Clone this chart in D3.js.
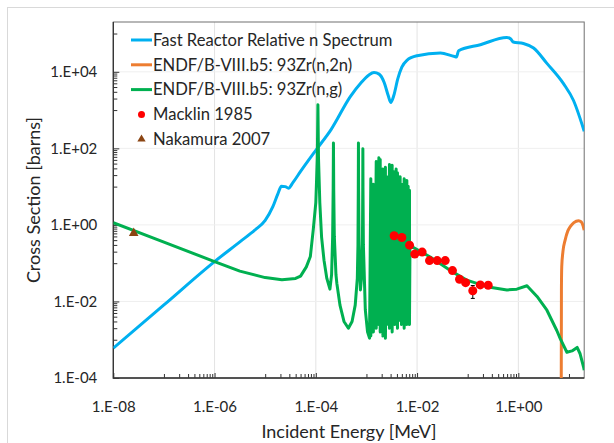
<!DOCTYPE html>
<html>
<head>
<meta charset="utf-8">
<script src="https://cdn.jsdelivr.net/npm/d3@7"></script>
<style>
body { margin: 0; background: #fff; }
svg text { font-family: Lato, "Open Sans", sans-serif; fill: #262626; }
</style>
</head>
<body>
<script>
// axis ticks
var xTicks = [1e-8, 1e-6, 1e-4, 1e-2, 1];
var xTickLabels = ["1.E-08", "1.E-06", "1.E-04", "1.E-02", "1.E+00"];
var yTicks = [1e-4, 1e-2, 1, 1e2, 1e4];
var yTickLabels = ["1.E-04", "1.E-02", "1.E+00", "1.E+02", "1.E+04"];

// Fast reactor relative neutron spectrum
var spectrumE = [1e-8, 1e-7, 1e-6, 3.16e-6, 6.3e-6, 1e-5, 1.41e-5, 1.78e-5, 2.09e-5, 2.5e-5, 2.88e-5, 3.55e-5, 5e-5, 1e-4, 2e-4, 4.8e-4, 7.9e-4, 1.12e-3, 1.41e-3, 1.78e-3, 2.24e-3, 2.69e-3, 3.02e-3, 3.47e-3, 4.17e-3, 5e-3, 6.3e-3, 1e-2, 2.9e-2, 5.5e-2, 6e-2, 6.6e-2, 0.178, 0.59, 0.71, 0.79, 1.26, 2.0, 3.67, 7.8, 12.3, 20];
var spectrumV = [6.0e-4, 8.1e-3, 0.11, 0.36, 0.74, 1.32, 2.95, 6.5, 10.2, 10.0, 9.1, 12.9, 25, 89, 309, 2240, 5250, 8300, 9550, 8700, 5250, 2400, 1580, 2400, 6600, 1.32e4, 2.0e4, 2.63e4, 3.1e4, 2.5e4, 2.45e4, 3.55e4, 5.1e4, 7.9e4, 7.2e4, 6.0e4, 5.5e4, 4.2e4, 1.66e4, 4900, 1780, 280];

// 93Zr(n,2n)
var n2nE = [7.0, 7.1, 7.2, 7.6, 8.4, 9.5, 10.6, 12.5, 15.5, 17.5, 19, 20];
var n2nV = [1e-6, 0.02, 0.08, 0.2, 0.4, 0.7, 0.9, 1.15, 1.29, 1.2, 0.95, 0.73];

// 93Zr(n,g): thermal + resolved resonances
var ngLowE = [1e-8, 1e-7, 1e-6, 3.16e-6, 1e-5, 2.14e-5, 3.98e-5, 5.0e-5, 6.5e-5, 7.8e-5, 8.9e-5, 1.0e-4, 1.07e-4, 1.1e-4, 1.13e-4, 1.2e-4, 1.3e-4, 1.45e-4, 1.65e-4, 1.9e-4,
  2.05e-4, 2.15e-4, 2.2e-4, 2.23e-4, 2.26e-4, 2.32e-4, 2.5e-4, 2.6e-4, 3.0e-4, 3.6e-4, 4.4e-4, 5.2e-4, 6.0e-4, 6.6e-4,
  6.8e-4, 6.9e-4, 6.95e-4, 7.0e-4, 7.15e-4, 7.6e-4, 8.1e-4, 8.35e-4, 8.45e-4, 8.5e-4, 8.55e-4, 8.7e-4, 9.5e-4, 1.05e-3, 1.15e-3];
var ngLowV = [1.14, 0.355, 0.11, 0.062, 0.042, 0.037, 0.040, 0.046, 0.08, 0.15, 0.75, 3.8, 55, 1380, 55, 3.8, 0.48, 0.12, 0.04, 0.021,
  0.05, 0.5, 8, 138, 8, 0.5, 0.05, 0.03, 0.008, 0.003, 0.002, 0.003, 0.008, 0.04,
  0.3, 9, 138, 9, 0.3, 0.02, 0.05, 0.5, 8, 98, 8, 0.3, 0.006, 0.0016, 0.0011];

// 93Zr(n,g): dense resonance block
var ngBlockE = [1.22e-3, 1.30e-3, 1.37e-3, 1.47e-3, 1.56e-3, 1.65e-3, 1.76e-3, 1.87e-3, 1.98e-3, 2.11e-3, 2.24e-3, 2.37e-3, 2.53e-3, 2.69e-3, 2.85e-3,
  3.03e-3, 3.22e-3, 3.42e-3, 3.64e-3, 3.86e-3, 4.10e-3, 4.37e-3, 4.63e-3, 4.92e-3, 5.24e-3, 5.56e-3, 5.90e-3, 6.28e-3, 6.67e-3, 7.08e-3];
var ngBlockPeak = [16, 3.7, 11.5, 1.9, 45, 9.1, 57, 51, 7.2, 29, 2.3, 32, 18, 4.6, 38, 11.5, 36, 25, 5.8, 29, 23, 7.2, 18, 9.1, 11.5, 16, 2.9, 14.5, 10.2, 8.1];
var ngBlockValley = [1.26e-3, 3.2e-3, 1.6e-3, 5.0e-3, 2.0e-3, 6.3e-3, 2.5e-3, 1.6e-3, 4.0e-3, 1.26e-3, 3.2e-3, 1.1e-3, 2.5e-3, 5.0e-3, 2.0e-3,
  3.2e-3, 1.6e-3, 4.0e-3, 2.5e-3, 6.3e-3, 2.0e-3, 3.2e-3, 5.0e-3, 2.5e-3, 4.0e-3, 2.0e-3, 6.3e-3, 2.5e-3, 3.2e-3, 2.5e-3];

// 93Zr(n,g): unresolved / fast range
var ngHighE = [7.24e-3, 1.82e-2, 4.47e-2, 9.55e-2, 0.24, 0.596, 0.933, 1.48, 2.34, 3.67, 5.75, 6.76, 9.1, 11.5, 14.5, 16.6, 19.5, 20];
var ngHighV = [0.29, 0.145, 0.065, 0.036, 0.0243, 0.020, 0.0209, 0.0257, 0.0135, 0.0059, 0.00174, 0.00105, 4.7e-4, 5.1e-4, 6.3e-4, 4.3e-4, 1.9e-4, 1.6e-4];

// Macklin 1985
var macklinE = [3.52e-3, 5.0e-3, 7.1e-3, 9.0e-3, 1.26e-2, 1.76e-2, 2.5e-2, 3.6e-2, 5.0e-2, 6.9e-2, 9.1e-2, 0.126, 0.177, 0.254];
var macklinV = [0.52, 0.47, 0.295, 0.173, 0.195, 0.117, 0.117, 0.117, 0.064, 0.038, 0.031, 0.019, 0.027, 0.0265];
var macklinDV = [0.03, 0.03, 0.02, 0.012, 0.013, 0.008, 0.008, 0.008, 0.005, 0.003, 0.003, 0.007, 0.002, 0.002];
var macklinDE = [0.0003, 0.0004, 0.0006, 0.0008, 0.0012, 0.0018, 0.0025, 0.004, 0.006, 0.009, 0.012, 0.016, 0.022, 0.03];

// Nakamura 2007
var nakamuraE = [2.53e-8];
var nakamuraV = [0.61];

var width = 614, height = 443;
var plot = {left: 113.3, right: 584.2, top: 22, bottom: 378};

var svg = d3.select("body").append("svg")
    .attr("width", width)
    .attr("height", height);

// chart area frame (cut by the picture edge)
svg.append("rect")
    .attr("x", 7.5).attr("y", 7.5)
    .attr("width", 700).attr("height", 500)
    .attr("fill", "none")
    .attr("stroke", "#d9d9d9");

var x = d3.scaleLog().domain([1e-8, 20]).range([plot.left, plot.right]);
var y = d3.scaleLog().domain([1e-4, 2e5]).range([plot.bottom, plot.top]);

// gridlines
svg.append("g").selectAll("line").data(xTicks.slice(1)).enter().append("line")
    .attr("x1", d => x(d)).attr("x2", d => x(d))
    .attr("y1", plot.top).attr("y2", plot.bottom)
    .attr("stroke", "#e3e3e3");
svg.append("g").selectAll("line").data(yTicks.slice(1)).enter().append("line")
    .attr("x1", plot.left).attr("x2", plot.right)
    .attr("y1", d => y(d)).attr("y2", d => y(d))
    .attr("stroke", "#efefef");

// minor ticks: 1..9 x 10^(major+1)
function minors(majors, maxV) {
    var out = [];
    majors.concat([majors[majors.length - 1] * 100]).forEach(m => {
        for (var k = 1; k <= 9; k++) {
            var v = k * m * 10;
            if (v < maxV * 0.999) out.push(v);
        }
    });
    return out;
}

var xAxisG = svg.append("g").attr("transform", "translate(0," + plot.bottom + ")");
xAxisG.append("g").call(d3.axisBottom(x).tickValues(minors(xTicks, 20)).tickSize(-4).tickFormat(""));
xAxisG.append("g").attr("class", "xmaj")
    .call(d3.axisBottom(x).tickValues(xTicks).tickSize(-5).tickPadding(23)
        .tickFormat((d, i) => xTickLabels[i]));

var yAxisG = svg.append("g").attr("transform", "translate(" + plot.left + ",0)");
yAxisG.append("g").call(d3.axisLeft(y).tickValues(minors(yTicks, 2e5)).tickSize(-4).tickFormat(""));
yAxisG.append("g").attr("class", "ymaj")
    .call(d3.axisLeft(y).tickValues(yTicks).tickSize(-6).tickPadding(16)
        .tickFormat((d, i) => yTickLabels[i]));

svg.selectAll(".domain").remove();
svg.selectAll(".tick line").attr("stroke", "#333");
svg.selectAll(".xmaj text, .ymaj text").attr("font-size", "15px").attr("fill", "#262626");

// plot area border
svg.append("rect")
    .attr("x", plot.left).attr("y", plot.top)
    .attr("width", plot.right - plot.left).attr("height", plot.bottom - plot.top)
    .attr("fill", "none").attr("stroke", "#707070");
svg.append("path")
    .attr("d", "M" + plot.left + "," + plot.top + "V" + plot.bottom + "H" + plot.right)
    .attr("fill", "none").attr("stroke", "#333").attr("stroke-width", 1.3);

// clip
svg.append("clipPath").attr("id", "clip").append("rect")
    .attr("x", plot.left).attr("y", plot.top)
    .attr("width", plot.right - plot.left).attr("height", plot.bottom - plot.top);
var g = svg.append("g").attr("clip-path", "url(#clip)");

var line = d3.line().x(d => x(d[0])).y(d => y(d[1]));

var spectrum = spectrumE.map((e, i) => [e, spectrumV[i]]);
var n2n = n2nE.map((e, i) => [e, n2nV[i]]);
var ng = ngLowE.map((e, i) => [e, ngLowV[i]]);
ngBlockE.forEach((e, i) => {
    ng.push([e, ngBlockPeak[i]]);
    ng.push([e, ngBlockValley[i]]);
});
ngHighE.forEach((e, i) => ng.push([e, ngHighV[i]]));

g.append("path").datum(spectrum)
    .attr("d", line.curve(d3.curveMonotoneX))
    .attr("fill", "none").attr("stroke", "#00B0F0").attr("stroke-width", 3)
    .attr("stroke-linejoin", "round");

line.curve(d3.curveLinear);
g.append("path").datum(n2n)
    .attr("d", d3.line().x(d => x(d[0])).y(d => y(d[1])).curve(d3.curveMonotoneX))
    .attr("fill", "none").attr("stroke", "#ED7D31").attr("stroke-width", 3);

g.append("path").datum(ng)
    .attr("d", line)
    .attr("fill", "none").attr("stroke", "#00B050").attr("stroke-width", 3)
    .attr("stroke-linejoin", "round");

// Macklin error bars
var eb = g.append("g").attr("stroke", "#000").attr("stroke-width", 1);
macklinE.forEach((e, i) => {
    var v = macklinV[i], dv = macklinDV[i], de = macklinDE[i];
    var cx = x(e), cy = y(v);
    var y0 = y(v - dv), y1 = y(v + dv), x0 = x(e - de), x1 = x(e + de);
    eb.append("line").attr("x1", cx).attr("x2", cx).attr("y1", y0).attr("y2", y1);
    eb.append("line").attr("x1", cx - 2).attr("x2", cx + 2).attr("y1", y0).attr("y2", y0);
    eb.append("line").attr("x1", cx - 2).attr("x2", cx + 2).attr("y1", y1).attr("y2", y1);
    eb.append("line").attr("x1", x0).attr("x2", x1).attr("y1", cy).attr("y2", cy);
    eb.append("line").attr("x1", x0).attr("x2", x0).attr("y1", cy - 2).attr("y2", cy + 2);
    eb.append("line").attr("x1", x1).attr("x2", x1).attr("y1", cy - 2).attr("y2", cy + 2);
});

g.selectAll(".macklin").data(macklinE).enter().append("circle")
    .attr("class", "macklin")
    .attr("cx", d => x(d))
    .attr("cy", (d, i) => y(macklinV[i]))
    .attr("r", 4.5)
    .attr("fill", "#FF0000");

var tri = d3.symbol().type(d3.symbolTriangle).size(40);
g.selectAll(".nakamura").data(nakamuraE).enter().append("path")
    .attr("class", "nakamura")
    .attr("transform", (d, i) => "translate(" + x(d) + "," + y(nakamuraV[i]) + ")")
    .attr("d", tri)
    .attr("fill", "#8B4513");

// legend
var legendItems = [
    {name: "Fast Reactor Relative n Spectrum", type: "line", color: "#00B0F0"},
    {name: "ENDF/B-VIII.b5: 93Zr(n,2n)", type: "line", color: "#ED7D31"},
    {name: "ENDF/B-VIII.b5: 93Zr(n,g)", type: "line", color: "#00B050"},
    {name: "Macklin 1985", type: "dot", color: "#FF0000"},
    {name: "Nakamura 2007", type: "tri", color: "#8B4513"}
];
var leg = svg.append("g");
legendItems.forEach((d, i) => {
    var ly = 40 + i * 24.8;
    if (d.type === "line") {
        leg.append("line").attr("x1", 131).attr("x2", 152).attr("y1", ly).attr("y2", ly)
            .attr("stroke", d.color).attr("stroke-width", 3);
    } else if (d.type === "dot") {
        leg.append("circle").attr("cx", 141.5).attr("cy", ly).attr("r", 3.5).attr("fill", d.color);
    } else {
        leg.append("path").attr("transform", "translate(141.5," + ly + ")")
            .attr("d", d3.symbol().type(d3.symbolTriangle).size(30)).attr("fill", d.color);
    }
    leg.append("text").attr("x", 153).attr("y", ly).attr("dy", "0.35em")
        .attr("font-size", "16.6px").text(d.name);
});

// axis titles
svg.append("text")
    .attr("x", 349).attr("y", 432).attr("dy", "0.35em")
    .attr("text-anchor", "middle").attr("font-size", "18px")
    .text("Incident Energy [MeV]");
svg.append("text")
    .attr("transform", "translate(34,200) rotate(-90)")
    .attr("dy", "0.35em")
    .attr("text-anchor", "middle").attr("font-size", "18px")
    .text("Cross Section [barns]");
</script>
</body>
</html>
